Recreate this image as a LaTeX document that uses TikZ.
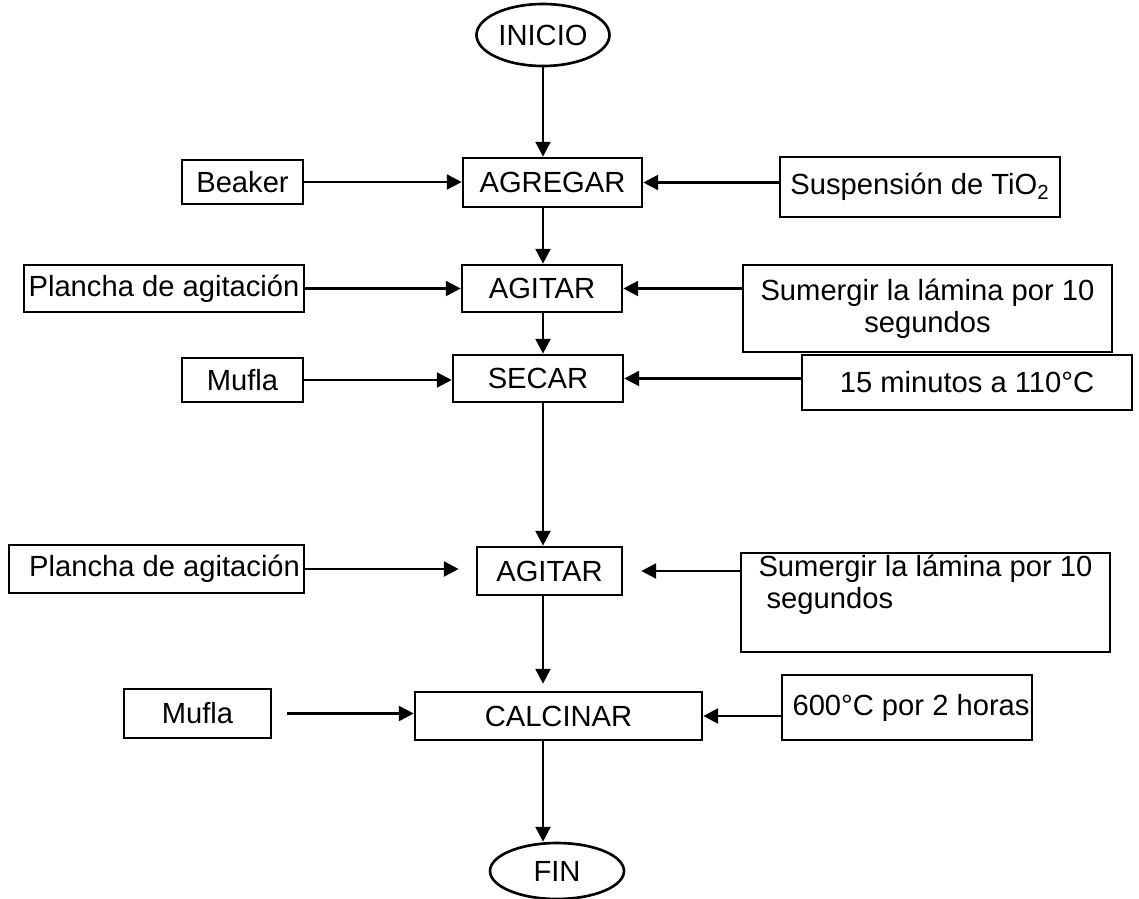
\documentclass[tikz,border=0pt]{standalone}
\usepackage{fontspec}
\setmainfont{Liberation Sans}
\usepackage{xcolor}
\usetikzlibrary{arrows.meta, shapes.geometric, positioning}

\begin{document}
\begin{tikzpicture}[
    x=0.02cm, y=-0.02cm,
    box/.style={draw, line width=1.5pt, rectangle, text centered, inner sep=1pt,
                font=\fontsize{16.6}{18}\selectfont},
    term/.style={draw, ellipse, line width=1.5pt, inner sep=0pt,
                 font=\fontsize{16.6}{18}\selectfont},
    arrow/.style={-{Triangle[length=8.5pt,width=8.5pt]}, line width=1.5pt}
]
  \useasboundingbox (0,0) rectangle (1139,899);

  % Nodes
  \node[term, minimum width=2.66cm, minimum height=1.24cm] (inicio) at (543,35) {INICIO};
  \node[box, minimum width=3.58cm, minimum height=0.98cm] (agregar) at (552.5,182.5) {AGREGAR};
  \node[box, minimum width=2.42cm, minimum height=0.88cm] (beaker) at (242.5,182) {Beaker};
  \node[box, minimum width=5.6cm, minimum height=1.2cm] (suspension) at (920,187)
      {Suspensión de TiO\textsubscript{2}};

  \node[box, minimum width=5.6cm, minimum height=0.94cm] (plancha1) at (164,288.5) {Plancha de agitación};
  \node[box, minimum width=3.2cm, minimum height=0.94cm] (agitar1) at (542,288.5) {AGITAR};
  \node[box, minimum width=7.38cm, minimum height=1.74cm, align=center] (sumergir1) at (927.5,308.5)
      {Sumergir la lámina por 10\\segundos};

  \node[box, minimum width=2.42cm, minimum height=0.88cm] (mufla1) at (242.5,380) {Mufla};
  \node[box, minimum width=3.4cm, minimum height=0.94cm] (secar) at (538,378.5) {SECAR};
  \node[box, minimum width=6.6cm, minimum height=1.1cm] (minutos) at (967,382.5) {15 minutos a 110°C};

  \node[box, minimum width=5.9cm, minimum height=0.96cm] (plancha2) at (156.5,569) {\ \ Plancha de agitación};
  \node[box, minimum width=2.9cm, minimum height=0.96cm] (agitar2) at (549.5,571) {AGITAR};
  \node[box, minimum width=7.38cm, minimum height=1.98cm, align=left] (sumergir2) at (925.5,602.5)
      {Sumergir la lámina por 10\\\ segundos\\\strut};

  \node[box, minimum width=2.94cm, minimum height=0.98cm] (mufla2) at (197.5,713.5) {Mufla};
  \node[box, minimum width=5.74cm, minimum height=0.96cm] (calcinar) at (558.5,716) {CALCINAR};
  \node[box, minimum width=5.0cm, minimum height=1.3cm] (grados) at (907,707.5) {\ 600°C por 2 horas};

  \node[term, minimum width=2.68cm, minimum height=1.12cm] (fin) at (557,871) {FIN};

  % Arrows
  \draw[arrow] (inicio) -- (inicio |- agregar.north);
  \draw[arrow] (beaker.east) -- (beaker.east -| agregar.west);
  \draw[arrow] (suspension.west |- agregar) -- (agregar.east);
  \draw[arrow] (agregar.south -| inicio) -- (agitar1.north -| inicio);

  \draw[arrow] (plancha1) -- (agitar1);
  \draw[arrow] (sumergir1.west |- agitar1) -- (agitar1.east);
  \draw[arrow] (agitar1.south -| inicio) -- (secar.north -| inicio);

  \draw[arrow] (mufla1.east) -- (mufla1.east -| secar.west);
  \draw[arrow] (minutos.west |- secar) -- (secar.east);
  \draw[arrow] (secar.south -| inicio) -- (agitar2.north -| inicio);

  \draw[arrow, shorten >=0.34cm] (plancha2.east) -- (plancha2.east -| agitar2.west);
  \draw[arrow, shorten >=0.36cm] (sumergir2.west |- agitar2) -- (agitar2.east);
  \draw[arrow, shorten >=0.14cm] (agitar2.south -| inicio) -- (calcinar.north -| inicio);

  \draw[arrow, shorten <=0.3cm] (mufla2.east) -- (mufla2.east -| calcinar.west);
  \draw[arrow] (grados.west |- calcinar) -- (calcinar.east);
  \draw[arrow] (calcinar.south -| inicio) -- (fin.north -| inicio);
\end{tikzpicture}
\end{document}
